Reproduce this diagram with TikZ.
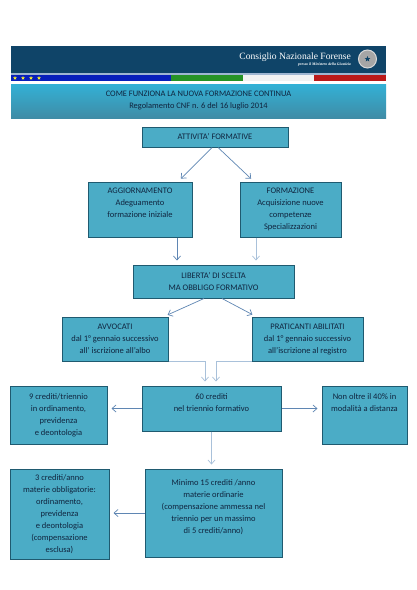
\documentclass[tikz,border=0pt]{standalone}
\usepackage{fontspec}
\setmainfont{Carlito}
\newfontfamily\cnffont{Liberation Serif}
\usepackage{tikz}
\usetikzlibrary{arrows.meta,positioning,shapes.geometric}
\definecolor{cnfnavy}{HTML}{0F4468}
\definecolor{boxfill}{HTML}{4BACC6}
\definecolor{boxline}{HTML}{1F5A70}
\definecolor{boxtext}{HTML}{10253F}
\definecolor{arrblue}{HTML}{5F86B3}
\definecolor{arrpale}{HTML}{A9C1DA}
\definecolor{bandtop}{HTML}{33B1D6}
\definecolor{bandbottom}{HTML}{3F8CA6}

\begin{document}
\begin{tikzpicture}[
x=1pt,y=-1pt,
box/.style={rectangle,draw=boxline,line width=1pt,fill=boxfill,align=center,inner sep=0pt,
  text=boxtext,font=\fontsize{8.5}{12}\selectfont},
arr/.style={-{Straight Barb[length=4pt,width=7pt]},draw=arrblue,line width=0.7pt,shorten >=4pt},
arrlight/.style={arr,draw=arrpale},
star4/.style={star,star points=5,star point ratio=2.4,fill=yellow!85!white,inner sep=0pt,minimum size=4pt}
]
\useasboundingbox[fill=white] (0,0) rectangle (417,590);

% header
\node[rectangle,fill=cnfnavy,minimum width=375pt,minimum height=27pt,inner sep=0pt] (header) at (198.5,59.5) {};
\node[anchor=east,text=white,align=right,inner sep=0pt,font=\cnffont\fontsize{9.6}{5}\selectfont] (cnf) at (351,60)
  {Consiglio Nazionale Forense\\[1pt]{\fontsize{3.8}{4}\selectfont\itshape\bfseries presso il Ministero della Giustizia}};
\node[circle,draw=white!85!black,line width=1pt,fill=black!35,minimum size=18pt,inner sep=0pt] (emblem) at (367.5,59) {};
\node[star,star points=5,star point ratio=2.4,fill=cnfnavy,inner sep=0pt,minimum size=6pt] (emblemstar) at (emblem.center) {};
\fill[arrblue!60!white] (11,73) rectangle (386,74.5);
\fill[blue!55!cnfnavy] (11,74.5) rectangle (171,81);
\fill[green!50!black!85!white] (171,74.5) rectangle (243,81);
\fill[black!5] (243,74.5) rectangle (314,81);
\fill[red!70!black!90!white] (314,74.5) rectangle (386,81);
\foreach \sx in {15,23,31,39}
  \node[star4] at (\sx,78) {};
\node[rectangle,top color=bandtop,bottom color=bandbottom,minimum width=375pt,minimum height=34pt,
  inner sep=0pt,align=center,text=boxtext,font=\fontsize{8.4}{12}\selectfont] (title) at (198.5,101)
  {COME FUNZIONA LA NUOVA FORMAZIONE CONTINUA\\Regolamento CNF n. 6 del 16 luglio 2014\\[-9pt]};

% boxes
\node[box,minimum width=146pt,minimum height=20pt] (attivita) at (215,137) {ATTIVITA’ FORMATIVE};
\node[box,minimum width=104pt,minimum height=55pt,below=34pt of attivita,xshift=-75pt] (aggiornamento)
  {AGGIORNAMENTO\\Adeguamento\\formazione iniziale\\[2pt]};
\node[box,minimum width=101pt,minimum height=55pt,below=34pt of attivita,xshift=75.5pt] (formazione)
  {FORMAZIONE\\Acquisizione nuove\\competenze\\Specializzazioni};
\node[box,minimum width=161pt,minimum height=33pt,below=27pt of aggiornamento,xshift=73.5pt] (liberta)
  {LIBERTA’ DI SCELTA\\MA OBBLIGO FORMATIVO};
\node[box,minimum width=106pt,minimum height=44pt,below=18pt of liberta,xshift=-98.5pt] (avvocati)
  {AVVOCATI\\dal 1° gennaio successivo\\all’ iscrizione all’albo};
\node[box,minimum width=111pt,minimum height=44pt,below=18pt of liberta,xshift=94pt] (praticanti)
  {PRATICANTI ABILITATI\\dal 1° gennaio successivo\\all’iscrizione al registro};
\node[box,minimum width=139pt,minimum height=45pt,below=87pt of liberta,xshift=-2pt] (sessanta)
  {60 crediti\\nel triennio formativo\\};
\node[box,minimum width=97pt,minimum height=58pt,anchor=north east] (nove) at ([xshift=-34pt]sessanta.north west)
  {9 crediti/triennio\\in ordinamento,\\previdenza\\e deontologia};
\node[box,minimum width=85pt,minimum height=58pt,anchor=north west] (nonoltre) at ([xshift=40pt]sessanta.north east)
  {Non oltre il 40\% in\\modalità a distanza\\[13pt]};
\node[box,minimum width=137pt,minimum height=88pt,below=37pt of sessanta,xshift=2pt] (minimo)
  {Minimo 15 crediti /anno\\materie ordinarie\\(compensazione ammessa nel\\triennio per un massimo\\di 5 crediti/anno)\\[1pt]};
\node[box,minimum width=99pt,minimum height=90pt,anchor=north east] (tre) at ([xshift=-35pt]minimo.north west)
  {3 crediti/anno\\materie obbligatorie:\\ordinamento,\\previdenza\\e deontologia\\(compensazione\\esclusa)};

% connectors
\draw[arr] ([xshift=-3pt]attivita.south) -- ([xshift=38pt]aggiornamento.north);
\draw[arr] ([xshift=3pt]attivita.south) -- ([xshift=-36.5pt]formazione.north);
\draw[arr] ([xshift=37pt]aggiornamento.south) -- ([xshift=-36.5pt]liberta.north);
\draw[arrlight] ([xshift=-34.5pt]formazione.south) -- ([xshift=42.5pt]liberta.north);
\draw[arr] ([xshift=-9.5pt]liberta.south) -- ([xshift=49pt]avvocati.north);
\draw[arr] ([xshift=8.5pt]liberta.south) -- ([xshift=-51.5pt]praticanti.north);
\draw[arrlight] (avvocati.south east) -| ([xshift=-6.5pt]sessanta.north);
\draw[arrlight] (praticanti.south west) -| ([xshift=4.5pt]sessanta.north);
\draw[arr] (sessanta.west) -- (nove.east |- sessanta.west);
\draw[arr] (sessanta.east) -- (nonoltre.west |- sessanta.east);
\draw[arrlight] (sessanta.south) -- (minimo.north -| sessanta.south);
\draw[arr] (minimo.west) -- (tre.east |- minimo.west);
\end{tikzpicture}
\end{document}
